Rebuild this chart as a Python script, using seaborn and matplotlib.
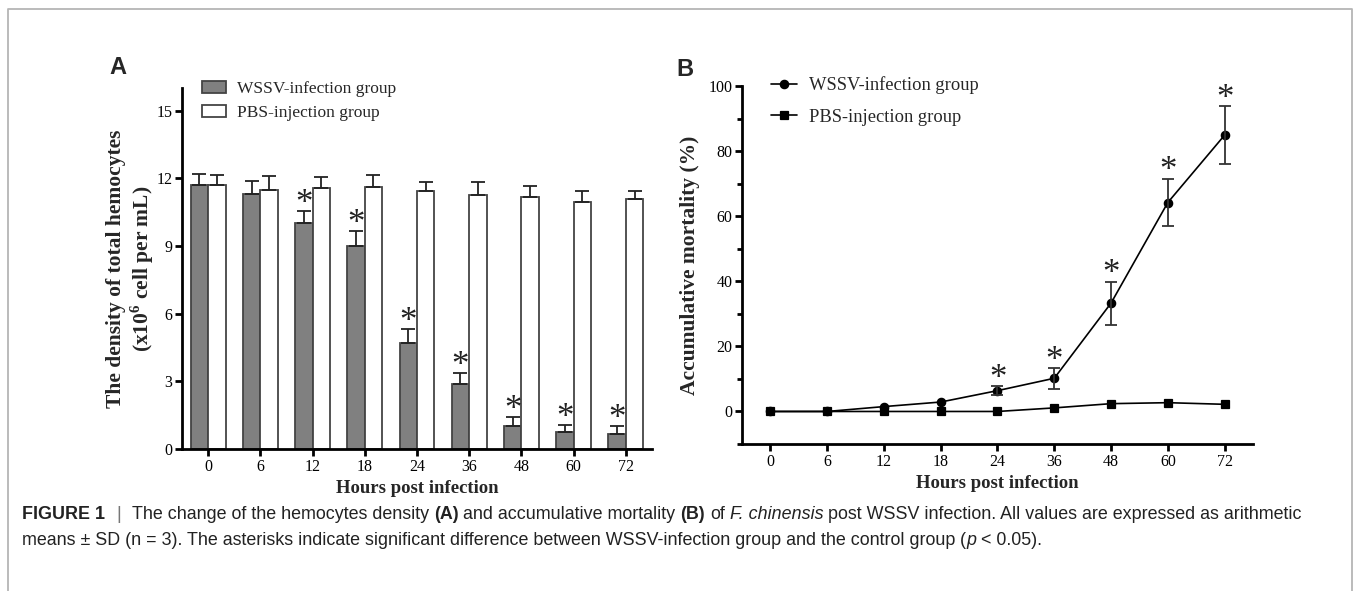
import numpy as np
import pandas as pd
import matplotlib
matplotlib.use('Agg')
import matplotlib.pyplot as plt
import seaborn as sns
from matplotlib.lines import Line2D
from matplotlib.ticker import AutoMinorLocator
from matplotlib.offsetbox import TextArea, HPacker, VPacker, AnchoredOffsetbox

# data
hours = ['0', '6', '12', '18', '24', '36', '48', '60', '72']
groups = ['WSSV-infection group', 'PBS-injection group']

wssv_density = [11.7, 11.3, 10.0, 9.0, 4.7, 2.9, 1.0, 0.75, 0.65]
wssv_density_sd = [0.5, 0.6, 0.55, 0.65, 0.6, 0.45, 0.4, 0.3, 0.35]
pbs_density = [11.7, 11.5, 11.55, 11.63, 11.42, 11.24, 11.17, 10.96, 11.08]
pbs_density_sd = [0.45, 0.6, 0.5, 0.5, 0.4, 0.58, 0.47, 0.46, 0.34]
density_sig = [False, False, True, True, True, True, True, True, True]

wssv_mort = [0, 0, 1.5, 2.9, 6.4, 10.2, 33.3, 64.2, 84.9]
wssv_mort_sd = [0, 0, 0, 0, 1.4, 3.2, 6.6, 7.3, 8.8]
pbs_mort = [0, 0, 0, 0, 0, 1.1, 2.4, 2.7, 2.2]
mort_sig = [False, False, False, False, True, True, True, True, True]

sns.set_style('ticks')
plt.rcParams['font.family'] = ['Liberation Serif', 'DejaVu Serif']
plt.rcParams['mathtext.fontset'] = 'custom'
plt.rcParams['mathtext.rm'] = 'Liberation Serif'
plt.rcParams['mathtext.bf'] = 'Liberation Serif:bold'
plt.rcParams['axes.linewidth'] = 2
plt.rcParams['xtick.major.width'] = 2
plt.rcParams['ytick.major.width'] = 2
plt.rcParams['ytick.minor.width'] = 2
plt.rcParams['xtick.major.size'] = 5
plt.rcParams['ytick.major.size'] = 5
plt.rcParams['ytick.minor.size'] = 3.5
plt.rcParams['xtick.color'] = 'black'
plt.rcParams['ytick.color'] = 'black'
plt.rcParams['axes.edgecolor'] = 'black'

fig = plt.figure(figsize=(13.54, 5.91), dpi=100)
ax1 = fig.add_axes([0.1344, 0.2403, 0.3471, 0.6108])
ax2 = fig.add_axes([0.5480, 0.2487, 0.3774, 0.6058])


def star(ax, x, y):
    ax.annotate('*', (x, y), xytext=(0, -7), textcoords='offset points',
                ha='center', va='bottom', fontsize=25, color='#222222')


# ---- A: hemocyte density bars
df_a = pd.DataFrame({
    'hours': hours * 2,
    'density': wssv_density + pbs_density,
    'group': [groups[0]] * len(hours) + [groups[1]] * len(hours),
})
sns.barplot(data=df_a, x='hours', y='density', hue='group', order=hours,
            hue_order=groups, palette=['#808080', 'white'], saturation=1,
            edgecolor='#444444', linewidth=1.3, width=0.667, errorbar=None, ax=ax1)

for cont, sd, sig in [(ax1.containers[0], wssv_density_sd, density_sig),
                      (ax1.containers[1], pbs_density_sd, [False] * len(hours))]:
    xs = [b.get_x() + b.get_width() / 2 for b in cont]
    hs = [b.get_height() for b in cont]
    ax1.errorbar(xs, hs, yerr=[np.zeros(len(sd)), sd], fmt='none', ecolor='#222222',
                 elinewidth=1.3, capsize=5, capthick=1.3)
    for x, h, e, s in zip(xs, hs, sd, sig):
        if s:
            star(ax1, x, h + e)

ax1.set_xlim(-0.5, len(hours) - 0.5)
ax1.set_ylim(0, 16)
ax1.set_yticks([0, 3, 6, 9, 12, 15])
ax1.set_xlabel('Hours post infection', fontsize=13.5, fontweight='bold', labelpad=4)
ax1.set_ylabel('The density of total hemocytes\n(x10$^{\\mathbf{6}}$ cell per mL)',
               fontsize=15.5, fontweight='bold', linespacing=1.15, labelpad=0)
ax1.tick_params(labelsize=11.5, pad=2)
sns.despine(ax=ax1)
sns.move_legend(ax1, 'upper left', bbox_to_anchor=(0.028, 1.04), frameon=False,
                title=None, fontsize=12.5, handlelength=1.38, handleheight=0.75,
                labelspacing=0.45, handletextpad=0.65, borderaxespad=0)

# ---- B: accumulative mortality lines
df_b = pd.DataFrame({
    'hours': hours * 2,
    'mortality': wssv_mort + pbs_mort,
    'group': [groups[0]] * len(hours) + [groups[1]] * len(hours),
})
sns.pointplot(data=df_b, x='hours', y='mortality', hue='group', order=hours,
              hue_order=groups, palette=['black', 'black'], markers=['o', 's'],
              linestyles=['-', '-'], errorbar=None, markersize=6, linewidth=1.2,
              ax=ax2)

xs = ax2.lines[0].get_xdata()
for x, m, e, s in zip(xs, wssv_mort, wssv_mort_sd, mort_sig):
    if e > 0:
        ax2.errorbar([x], [m], yerr=[e], fmt='none', ecolor='#333333',
                     elinewidth=1.3, capsize=4, capthick=1.3)
    if s:
        star(ax2, x, m + e)

ax2.set_xlim(-0.5, len(hours) - 0.5)
ax2.set_ylim(-10, 100)
ax2.set_yticks([0, 20, 40, 60, 80, 100])
ax2.yaxis.set_minor_locator(AutoMinorLocator(2))
ax2.set_xlabel('Hours post infection', fontsize=13.5, fontweight='bold', labelpad=4)
ax2.set_ylabel('Accumulative mortality (%)', fontsize=15.5, fontweight='bold', labelpad=6)
ax2.tick_params(labelsize=11.5, pad=2)
sns.despine(ax=ax2)
sns.move_legend(ax2, 'upper left', bbox_to_anchor=(0.042, 1.048), frameon=False,
                title=None, fontsize=13.3, handlelength=1.4, labelspacing=0.8,
                handletextpad=0.65, borderaxespad=0)

# panel letters
fig.text(118 / 1354, 1 - 67 / 591, 'A', fontsize=17, fontweight='bold',
         family='Liberation Sans', ha='center', va='center')
fig.text(685 / 1354, 1 - 70 / 591, 'B', fontsize=17, fontweight='bold',
         family='Liberation Sans', ha='center', va='center')

# frame around the figure
fig.add_artist(Line2D([0.0059, 0.0059, 0.9985, 0.9985], [0, 0.9848, 0.9848, 0],
                      transform=fig.transFigure, color='#b5b5b5', lw=1.3))

# caption
cap = 12.9


def piece(s, **kw):
    props = dict(family='Liberation Sans', size=cap, color='#222222')
    props.update(kw)
    return TextArea(s, textprops=props)


sp = 3.5
line1 = HPacker(children=[
    HPacker(children=[piece('FIGURE 1', weight='bold'), piece('|', color='#777777'),
                      piece('The change of the hemocytes density')], sep=8, pad=0),
    piece('(A)', weight='bold'),
    piece('and accumulative mortality'),
    piece('(B)', weight='bold'),
    piece('of'),
    piece('F. chinensis', style='italic'),
    piece('post WSSV infection. All values are expressed as arithmetic'),
], sep=sp, pad=0, align='baseline')
line2 = HPacker(children=[
    piece('means \u00b1 SD (n = 3). The asterisks indicate significant difference '
          'between WSSV-infection group and the control group'),
    HPacker(children=[piece('('), piece('p', style='italic')], sep=0, pad=0,
            align='baseline'),
    piece('< 0.05).'),
], sep=sp, pad=0, align='baseline')
box = VPacker(children=[line1, line2], sep=6.5, pad=0, align='left')
fig.add_artist(AnchoredOffsetbox(loc='upper left', child=box, pad=0, borderpad=0,
                                 frameon=False, bbox_to_anchor=(22 / 1354, 1 - 506 / 591),
                                 bbox_transform=fig.transFigure))

fig.savefig('out.png', dpi=100)
